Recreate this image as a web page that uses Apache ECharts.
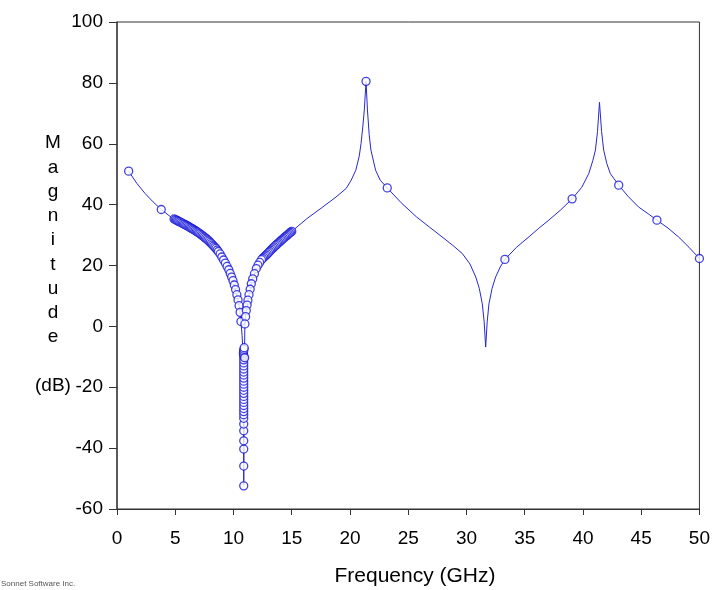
<!DOCTYPE html>
<html>
<head>
<meta charset="utf-8">
<title>Magnitude vs Frequency</title>
<script src="https://cdn.jsdelivr.net/npm/echarts@6/dist/echarts.min.js"></script>
<style>
  html, body { margin: 0; padding: 0; background: #fff; }
  #main { width: 713px; height: 590px; }
</style>
</head>
<body>
<div id="main"></div>
<script>
// interpolated response curve (GHz, dB)
var curveFreq = [1.0, 1.7, 2.4, 3.1, 3.8, 4.5, 5.1, 5.97, 7.1, 8.25, 9.1, 9.67, 9.96, 10.25, 10.53, 10.64,
  10.74, 10.8, 10.83, 10.86, 10.88, 10.9, 10.92, 10.94, 10.98, 11.1, 11.24, 11.53, 11.96, 12.8, 13.96, 15.0,
  16.3, 17.66, 18.8, 19.67, 20.1, 20.5, 20.8, 20.95, 21.1, 21.23, 21.38, 21.5, 21.65, 21.8, 22.2, 22.6, 23.2,
  24.4, 25.7, 26.8, 27.9, 28.8, 29.65, 30.3, 30.8, 31.1, 31.36, 31.52, 31.65, 31.78, 31.93, 32.2, 32.5, 32.9,
  33.3, 34.3, 35.36, 36.2, 37.07, 38.1, 39.07, 39.9, 40.5, 40.85, 41.07, 41.25, 41.42, 41.6, 41.78, 42.05,
  42.35, 43.07, 43.9, 44.78, 45.6, 46.35, 47.3, 48.2, 49.1, 50.0];
var curveMag = [51.0, 47.0, 43.7, 40.9, 38.4, 36.3, 34.9, 33.2, 30.5, 26.6, 22.2, 18.4, 15.1, 10.8, 5.9, 1.6,
  -3.0, -7.5, -15, -30, -52.3, -40, -25, -10.5, 0.8, 5.2, 8.5, 14.0, 19.0, 23.3, 27.7, 31.2,
  35.4, 39.2, 42.5, 45.3, 48.0, 51.3, 56.0, 60.1, 65.5, 71.1, 80.5, 71.1, 63.0, 57.9, 51.3, 48.0, 45.5,
  40.6, 36.0, 32.7, 29.4, 26.7, 23.9, 20.5, 16.2, 12.5, 7.4, 1.5, -6.8, 1.5, 7.4, 12.5, 16.2, 19.5,
  22.0, 26.0, 29.4, 32.2, 34.9, 38.3, 41.9, 45.7, 50.2, 54.5, 57.9, 64.0, 73.6, 64.0, 57.9, 53.5,
  50.2, 46.4, 42.6, 39.2, 37.0, 34.9, 32.3, 29.4, 26.0, 22.3];

// simulated (marker) points
var markFreq = [1.0, 3.8,
  4.9, 5.0, 5.1, 5.2, 5.3, 5.4, 5.5, 5.6, 5.7, 5.8, 5.9, 6.0, 6.1, 6.2, 6.3, 6.4, 6.5, 6.6, 6.7, 6.8,
  6.9, 7.0, 7.1, 7.2, 7.3, 7.4, 7.5, 7.6, 7.7, 7.8, 7.9, 8.0, 8.1, 8.2, 8.3, 8.4, 8.5, 8.6, 8.7,
  8.85, 9.0, 9.15, 9.3, 9.45, 9.6, 9.72, 9.84, 9.96, 10.07, 10.18, 10.29, 10.39, 10.48, 10.57, 10.64,
  15.0, 14.9, 14.8, 14.7, 14.6, 14.5, 14.4, 14.3, 14.2, 14.1, 14.0, 13.9, 13.8, 13.7, 13.6, 13.5, 13.4,
  13.3, 13.2, 13.1, 13.0, 12.9, 12.8, 12.7, 12.6, 12.5, 12.4, 12.25, 12.1, 11.96,
  11.8, 11.65, 11.53, 11.43, 11.33, 11.24, 11.17, 11.1, 11.04, 10.98,
  10.88, 10.88, 10.88, 10.88, 10.88, 10.88, 10.88, 10.88, 10.88, 10.88, 10.88, 10.88, 10.88, 10.88,
  10.88, 10.88, 10.88, 10.88, 10.88, 10.88, 10.88, 10.88, 10.88, 10.88, 10.88, 10.88, 10.88, 10.88,
  10.85, 10.86, 10.87, 10.9, 10.92, 10.96,
  21.38, 23.2, 33.3, 39.07, 43.07, 46.35, 50.0];
var markMag = [51.0, 38.4,
  35.3, 35.1, 34.9, 34.7, 34.5, 34.3, 34.1, 33.9, 33.7, 33.5, 33.3, 33.1, 32.9, 32.65, 32.4, 32.2, 32.0, 31.75, 31.5, 31.25,
  31.0, 30.75, 30.5, 30.2, 29.9, 29.6, 29.3, 29.0, 28.7, 28.35, 28.0, 27.6, 27.2, 26.8, 26.4, 26.0, 25.6, 25.1, 24.6,
  23.8, 22.8, 21.8, 20.8, 19.7, 18.6, 17.4, 16.2, 15.0, 13.6, 12.1, 10.4, 8.7, 6.8, 4.6, 1.6,
  31.2, 30.9, 30.6, 30.25, 29.9, 29.6, 29.3, 28.95, 28.6, 28.25, 27.9, 27.55, 27.2, 26.85, 26.5, 26.15, 25.8,
  25.4, 25.0, 24.6, 24.2, 23.8, 23.4, 23.05, 22.7, 22.3, 21.9, 21.0, 20.1, 19.0,
  17.3, 15.6, 14.0, 12.2, 10.4, 8.6, 7.0, 5.2, 3.2, 0.8,
  -52.4, -45.9, -40.3, -37.6, -34.3, -32.1, -30.2, -29, -28, -27, -26, -25, -24, -23,
  -22, -21, -20, -19, -18, -17, -16, -15, -14, -13, -12, -11, -10, -9.5,
  -9.0, -8.5, -8.0, -7.5, -7.0, -10.3,
  80.5, 45.5, 22.0, 41.9, 46.4, 34.9, 22.3];

var xTicks = ['0', '5', '10', '15', '20', '25', '30', '35', '40', '45', '50'];
var yTicks = ['-60', '-40', '-20', '0', '20', '40', '60', '80', '100'];

var lineBlue = '#2828cc';
var markBlue = '#1414d8';
var curve = curveFreq.map(function (f, i) { return [f, curveMag[i]]; });
var marks = markFreq.map(function (f, i) { return [f, markMag[i]]; });

var myChart = echarts.init(document.getElementById('main'));
var option = {
  animation: false,
  backgroundColor: '#fff',
  grid: {
    left: 117, right: 12, top: 22, bottom: 81,
    show: true, borderColor: '#333', borderWidth: 1
  },
  xAxis: {
    type: 'value', min: 0, max: 50, interval: 5,
    axisLine: { show: true, onZero: false, lineStyle: { color: '#333', width: 1 } },
    axisTick: { show: true, inside: false, length: 6, lineStyle: { color: '#333' } },
    splitLine: { show: false },
    axisLabel: {
      margin: 20, color: '#000', fontSize: 19, fontFamily: 'Liberation Sans, Arial',
      formatter: function (v) { return xTicks[Math.round(v / 5)]; }
    }
  },
  yAxis: {
    type: 'value', min: -60, max: 100, interval: 20,
    axisLine: { show: true, onZero: false, lineStyle: { color: '#444', width: 1.5 } },
    axisTick: { show: true, inside: false, length: 8, lineStyle: { color: '#333' } },
    splitLine: { show: false },
    axisLabel: {
      margin: 14, color: '#000', fontSize: 19, fontFamily: 'Liberation Sans, Arial',
      formatter: function (v) { return yTicks[Math.round((v + 60) / 20)]; }
    }
  },
  graphic: [
    {
      type: 'text', left: 35, top: 131,
      style: {
        text: 'M\na\ng\nn\ni\nt\nu\nd\ne\n\n(dB)',
        x: 0, y: 0, textAlign: 'center',
        fill: '#000', fontSize: 19, lineHeight: 24.25, fontFamily: 'Liberation Sans, Arial'
      }
    },
    {
      type: 'text', x: 415, y: 576,
      style: {
        text: 'Frequency (GHz)', textAlign: 'center', textVerticalAlign: 'middle',
        fill: '#000', fontSize: 21, fontFamily: 'Liberation Sans, Arial'
      }
    },
    {
      type: 'text', x: 1, y: 584,
      style: {
        text: 'Sonnet Software Inc.', textVerticalAlign: 'middle',
        fill: '#555', fontSize: 8, fontFamily: 'Liberation Sans, Arial'
      }
    }
  ],
  series: [
    {
      name: 'curve',
      type: 'line',
      data: curve,
      showSymbol: false,
      smooth: false,
      lineStyle: { color: lineBlue, width: 1 },
      z: 2
    },
    {
      name: 'points',
      type: 'scatter',
      data: marks,
      symbol: 'circle',
      symbolSize: 8,
      itemStyle: { color: '#fff', borderColor: markBlue, borderWidth: 1.3 },
      z: 3
    }
  ]
};
myChart.setOption(option);
</script>
</body>
</html>
